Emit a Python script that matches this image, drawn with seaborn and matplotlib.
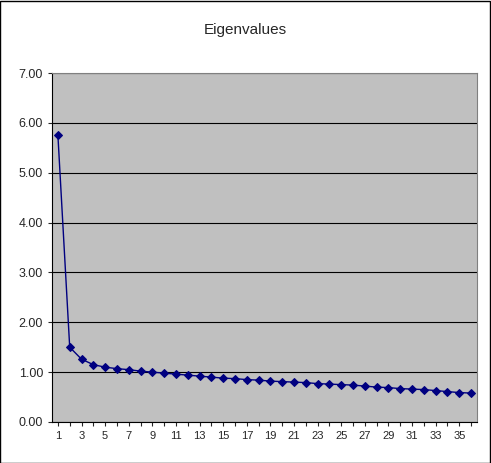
import matplotlib
matplotlib.use("Agg")
import matplotlib.pyplot as plt
import seaborn as sns
import pandas as pd

components = list(range(1, 37))
eigenvalues = [5.75, 1.50, 1.26, 1.15, 1.10, 1.07, 1.05, 1.02, 1.00, 0.98,
               0.96, 0.94, 0.92, 0.90, 0.88, 0.87, 0.85, 0.84, 0.82, 0.81,
               0.80, 0.79, 0.77, 0.76, 0.75, 0.74, 0.72, 0.70, 0.69, 0.67,
               0.66, 0.65, 0.63, 0.61, 0.59, 0.58]
yticks = [0, 1, 2, 3, 4, 5, 6, 7]

sns.set_style("white")
plt.rcParams['font.family'] = ['Liberation Sans', 'DejaVu Sans']

fig = plt.figure(figsize=(4.91, 4.63), dpi=100)
ax = fig.add_axes([52/491, 1-422/463, 425/491, 349/463])
df = pd.DataFrame({"c": components, "v": eigenvalues})
sns.lineplot(data=df, x="c", y="v", ax=ax, color="#000080", marker="D",
             markersize=4, markeredgecolor="#000080", linewidth=1)
ax.set_facecolor("#C0C0C0")
ax.set_xlim(0.5, 36.5)
ax.set_ylim(0, 7)
ax.set_yticks(yticks)
ax.set_yticklabels([f"{t:.2f}" for t in yticks], fontsize=9)
ax.set_xticks(components)
ax.set_xticklabels([str(c) if c % 2 == 1 else "" for c in components], fontsize=8)
ax.tick_params(axis="x", length=3, direction="out", bottom=True)
ax.tick_params(axis="y", length=3, direction="out", left=True)
ax.yaxis.grid(True, color="black", linewidth=0.8)
ax.set_axisbelow(True)
for s in ax.spines.values():
    s.set_color("#808080")
ax.spines["left"].set_color("black")
ax.spines["bottom"].set_color("black")
ax.set_xlabel("")
ax.set_ylabel("")
fig.text(0.5, 1-30/463, "Eigenvalues", ha="center", va="center", fontsize=11)
fig.patches.append(plt.Rectangle((0.001, 0.001), 0.997, 0.997, transform=fig.transFigure,
                                 fill=False, edgecolor="black", linewidth=1))
fig.savefig("out.png", dpi=100)
